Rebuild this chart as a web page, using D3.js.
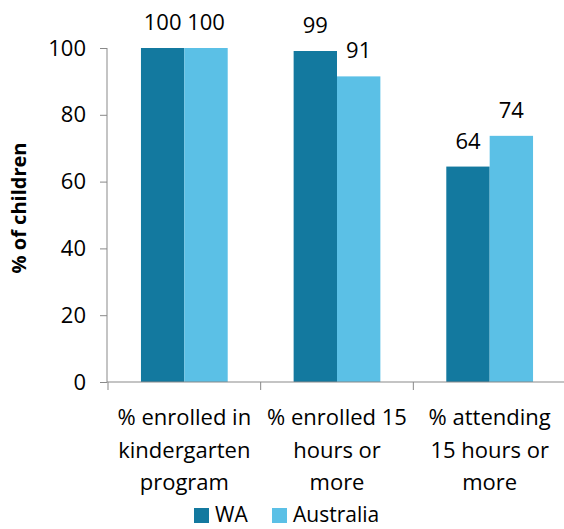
<!DOCTYPE html>
<html>
<head>
<meta charset="utf-8">
<script src="https://cdn.jsdelivr.net/npm/d3@7"></script>
<style>
  body { margin: 0; background: #fff; }
  svg text { font-family: "Open Sans", "Noto Sans", sans-serif; fill: #000; }
</style>
</head>
<body>
<svg id="chart" width="564" height="529"></svg>
<script>
// chart data
var categories = [
  ["% enrolled in", "kindergarten", "program"],
  ["% enrolled 15", "hours or", "more"],
  ["% attending", "15 hours or", "more"]
];
var seriesNames = ["WA", "Australia"];
var waValues = [100, 99.1, 64.5];
var ausValues = [100, 91.5, 73.7];
var valueLabels = [["100", "99", "64"], ["100", "91", "74"]];
var yTicks = [0, 20, 40, 60, 80, 100];
var colors = ["#13799f", "#5bc0e6"];

var svg = d3.select("#chart");
var fs = "22px";

var x0 = d3.scaleBand()
  .domain(d3.range(categories.length))
  .range([108, 566])
  .paddingInner(0)
  .paddingOuter(0);

var x1 = d3.scaleBand()
  .domain(d3.range(seriesNames.length))
  .range([0, x0.bandwidth()])
  .paddingInner(0)
  .paddingOuter(0.76);

var y = d3.scaleLinear().domain([0, 100]).range([382, 48]);

var series = [waValues, ausValues];

// bars
series.forEach(function (vals, s) {
  svg.append("g")
    .selectAll("rect")
    .data(vals)
    .enter()
    .append("rect")
    .attr("x", function (d, i) { return x0(i) + x1(s); })
    .attr("y", function (d) { return y(d); })
    .attr("width", x1.bandwidth())
    .attr("height", function (d) { return y(0) - y(d); })
    .attr("fill", colors[s]);

  svg.append("g")
    .selectAll("text")
    .data(vals)
    .enter()
    .append("text")
    .attr("x", function (d, i) { return x0(i) + x1(s) + x1.bandwidth() / 2; })
    .attr("y", function (d) { return y(d) - 18; })
    .attr("text-anchor", "middle")
    .style("font-size", fs)
    .text(function (d, i) { return valueLabels[s][i]; });
});

// y axis
var yAxis = d3.axisLeft(y)
  .tickValues(yTicks)
  .tickSize(7)
  .tickPadding(14);
var gy = svg.append("g")
  .attr("transform", "translate(107,0)")
  .call(yAxis);
gy.select(".domain").attr("stroke", "#898989").attr("d", "M0,48V382");
gy.selectAll(".tick line").attr("stroke", "#898989");
gy.selectAll(".tick text")
  .style("font-size", fs)
  .attr("font-family", "Open Sans");

// x axis
var gx = svg.append("g").attr("transform", "translate(0,382)");
gx.append("line")
  .attr("x1", 107).attr("x2", 566)
  .attr("stroke", "#898989");
gx.selectAll(".xtick")
  .data(d3.range(categories.length + 1))
  .enter()
  .append("line")
  .attr("x1", function (i) { return i < categories.length ? x0(i) : x0.range()[1]; })
  .attr("x2", function (i) { return i < categories.length ? x0(i) : x0.range()[1]; })
  .attr("y1", 0).attr("y2", 8)
  .attr("stroke", "#898989");

var catText = gx.selectAll(".cat")
  .data(categories)
  .enter()
  .append("text")
  .attr("text-anchor", "middle")
  .style("font-size", fs)
  .attr("transform", function (d, i) { return "translate(" + (x0(i) + x0.bandwidth() / 2) + ",0)"; });
catText.selectAll("tspan")
  .data(function (d) { return d; })
  .enter()
  .append("tspan")
  .attr("x", 0)
  .attr("y", function (d, j) { return 43 + j * 32.5; })
  .text(function (d) { return d; });

// y axis title
svg.append("text")
  .attr("transform", "translate(26,208) rotate(-90)")
  .attr("text-anchor", "middle")
  .style("font-size", "20px")
  .style("font-weight", "bold")
  .text("% of children");

// legend
var legend = svg.append("g").attr("transform", "translate(194,508)");
var legendX = [0, 78];
seriesNames.forEach(function (name, s) {
  var g = legend.append("g").attr("transform", "translate(" + legendX[s] + ",0)");
  g.append("rect").attr("width", 15).attr("height", 15).attr("fill", colors[s]);
  g.append("text")
    .attr("x", 21).attr("y", 14)
    .style("font-size", "21px")
    .text(name);
});
</script>
</body>
</html>
